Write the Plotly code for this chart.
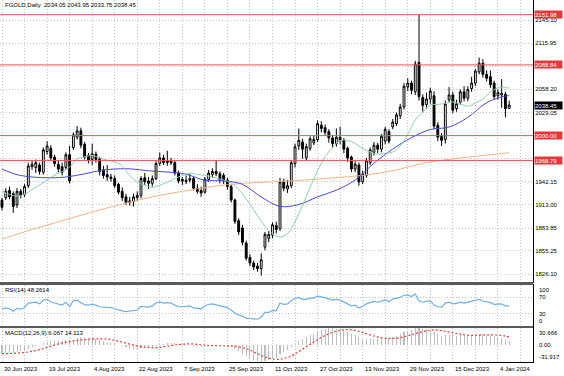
import plotly.graph_objects as go

W, H = 564, 376

# ---------------- text ----------------
symbol_title = "FGOLD,Daily  2034.05 2043.95 2033.75 2038.45"
rsi_title = "RSI(14) 48.2614"
macd_title = "MACD(12,26,9) 6.067 14.113"

date_labels = ["30 Jun 2023", "19 Jul 2023", "4 Aug 2023", "22 Aug 2023", "7 Sep 2023",
               "25 Sep 2023", "11 Oct 2023", "27 Oct 2023", "13 Nov 2023", "29 Nov 2023",
               "15 Dec 2023", "4 Jan 2024"]
date_label_bars = [0, 12, 24, 36, 48, 60, 72, 84, 96, 108, 120, 132]

# ---------------- daily OHLC (bar index 0 = 30 Jun 2023) ----------------
opens = [1919, 1922, 1931, 1927, 1913, 1930, 1926, 1937, 1961, 1960,
         1963, 1954, 1980, 1984, 1973, 1964, 1961, 1960, 1976, 1985,
         1998, 2006, 1989, 1975, 1970, 1977, 1971, 1957, 1951, 1948,
         1946, 1939, 1930, 1923, 1916, 1917, 1922, 1925, 1947, 1943,
         1940, 1946, 1965, 1972, 1966, 1968, 1966, 1953, 1945, 1942,
         1944, 1946, 1934, 1931, 1929, 1945, 1951, 1955, 1952, 1950,
         1944, 1936, 1919, 1893, 1884, 1865, 1847, 1840, 1836, 1833,
         1860, 1871, 1875, 1887, 1883, 1942, 1933, 1937, 1965, 1987,
         1992, 1972, 1984, 1991, 1995, 2013, 2010, 2005, 1997, 1990,
         1998, 1994, 1984, 1973, 1958, 1963, 1942, 1950, 1966, 1979,
         1988, 1983, 1993, 2005, 2011, 2015, 2025, 2036, 2061, 2066,
         2055, 2092, 2048, 2039, 2046, 2050, 2013, 1999, 1995, 2045,
         2051, 2034, 2042, 2055, 2047, 2059, 2066, 2080, 2091, 2077,
         2074, 2066, 2050, 2051, 2052, 2034.05]
highs = [1922, 1934, 1936, 1930, 1934, 1933, 1939, 1966, 1968, 1970,
         1966, 1985, 1993, 1988, 1976, 1969, 1966, 1979, 1987, 2004,
         2012, 2010, 1992, 1978, 1990, 1980, 1973, 1962, 1963, 1952,
         1950, 1941, 1935, 1927, 1923, 1927, 1930, 1949, 1953, 1948,
         1950, 1968, 1979, 1976, 1981, 1972, 1969, 1956, 1948, 1950,
         1952, 1948, 1939, 1936, 1948, 1957, 1959, 1969, 1955, 1953,
         1947, 1938, 1921, 1896, 1888, 1868, 1851, 1843, 1840, 1852,
         1879, 1880, 1891, 1892, 1947, 1946, 1944, 1969, 1990, 2009,
         1996, 1990, 1999, 2000, 2019, 2018, 2014, 2008, 2001, 2009,
         2011, 1997, 1986, 1975, 1968, 1966, 1956, 1972, 1985, 1992,
         1991, 2002, 2011, 2008, 2021, 2029, 2040, 2066, 2072, 2069,
         2094, 2151.98, 2052, 2054, 2060, 2056, 2017, 2003, 2044, 2061,
         2055, 2045, 2058, 2062, 2062, 2074, 2084, 2098, 2096, 2082,
         2082, 2069, 2058, 2071, 2055, 2043.95]
lows = [1906, 1919, 1920, 1903, 1909, 1921, 1923, 1934, 1957, 1953,
        1951, 1951, 1976, 1968, 1961, 1954, 1950, 1957, 1940, 1982,
        1995, 1984, 1970, 1965, 1963, 1966, 1950, 1946, 1943, 1942,
        1934, 1926, 1918, 1913, 1912, 1911, 1918, 1921, 1938, 1933,
        1936, 1944, 1962, 1963, 1962, 1963, 1950, 1940, 1938, 1939,
        1941, 1931, 1927, 1923, 1927, 1942, 1947, 1949, 1940, 1939,
        1932, 1916, 1889, 1875, 1862, 1843, 1836, 1831, 1829, 1824,
        1856, 1866, 1871, 1877, 1880, 1930, 1928, 1934, 1960, 1982,
        1971, 1968, 1981, 1988, 1992, 2004, 2000, 1991, 1985, 1986,
        1989, 1978, 1967, 1954, 1954, 1937, 1939, 1947, 1963, 1975,
        1978, 1979, 1989, 1990, 2008, 2012, 2021, 2033, 2056, 2052,
        2051, 2044, 2030, 2034, 2040, 2008, 1993, 1987, 1990, 2042,
        2028, 2030, 2039, 2043, 2043, 2055, 2062, 2077, 2073, 2068,
        2060, 2045, 2045, 2035, 2023, 2033.75]
closes = [1910, 1930, 1923, 1911, 1930, 1925, 1936, 1962, 1964, 1966,
          1955, 1982, 1987, 1972, 1965, 1958, 1954, 1976, 1943, 2001,
          2006, 1988, 1973, 1969, 1977, 1970, 1955, 1950, 1948, 1946,
          1937, 1929, 1922, 1916, 1918, 1923, 1925, 1946, 1942, 1940,
          1946, 1965, 1972, 1966, 1968, 1966, 1953, 1943, 1943, 1944,
          1946, 1934, 1930, 1928, 1945, 1953, 1955, 1952, 1944, 1943,
          1936, 1919, 1892, 1879, 1866, 1846, 1840, 1835, 1833, 1844,
          1876, 1876, 1888, 1882, 1942, 1934, 1937, 1966, 1986, 1994,
          1983, 1986, 1996, 1995, 2015, 2009, 2004, 1997, 1990, 1998,
          1994, 1983, 1972, 1958, 1964, 1942, 1952, 1969, 1982, 1988,
          1983, 1999, 2008, 1993, 2017, 2026, 2036, 2062, 2066, 2057,
          2090, 2049, 2038, 2046, 2056, 2012, 1998, 1994, 2040, 2051,
          2032, 2040, 2055, 2047, 2058, 2066, 2081, 2091, 2077, 2072,
          2064, 2049, 2054, 2053, 2034, 2038.45]

# ---------------- moving averages ----------------
ma_fast_bars = [0, 2, 4, 6, 8, 10, 12, 14, 16, 18, 20, 22, 24, 26, 28, 30, 32, 34, 36, 38,
                40, 42, 44, 46, 48, 50, 52, 54, 56, 58, 60, 62, 64, 66, 68, 70, 72, 74, 76, 78,
                80, 82, 84, 86, 88, 90, 92, 94, 96, 98, 100, 102, 104, 106, 108, 110, 112, 114,
                116, 118, 120, 122, 124, 126, 128, 130, 132, 134, 135]
ma_fast = [1930, 1926, 1924, 1926, 1932, 1938, 1944, 1950.6, 1954.8, 1960.4, 1970.8, 1973.3,
           1975.1, 1971.9, 1969.1, 1967.1, 1962.2, 1949.9, 1941.8, 1937.6, 1934.9, 1937.6,
           1941.3, 1946.1, 1949.9, 1952.9, 1951.1, 1950.2, 1948.1, 1945.4, 1942.6, 1937.2,
           1926.9, 1914.1, 1899.5, 1886.1, 1876.6, 1872.7, 1877.0, 1891.8, 1912.6, 1935.0,
           1955.7, 1973.5, 1985.1, 1993.8, 1994.0, 1990.1, 1983.8, 1979.6, 1976.6, 1978.0,
           1979.3, 1986.9, 2001.6, 2019.7, 2029.4, 2038.8, 2039.0, 2040.7, 2042.2, 2039.9,
           2036.9, 2041.1, 2045.9, 2054.9, 2059.8, 2060.1, 2059.9]
ma_mid_bars = [0, 4, 8, 13, 17, 22, 26, 29, 34, 39, 44, 49, 54, 59, 64, 69, 74, 79, 84, 89,
               94, 99, 104, 109, 114, 119, 124, 129, 134, 135]
ma_mid = [1958, 1951, 1948, 1947, 1948, 1952, 1956, 1957.7, 1958.3, 1955.8, 1954.3, 1951.5,
          1943.9, 1943.1, 1938.8, 1922.9, 1911.1, 1913.4, 1923.1, 1931.5, 1944.1, 1965.3,
          1983.1, 1997.5, 2007.6, 2010.8, 2022.9, 2041.3, 2049.8, 2050.2]
ma_slow_bars = [0, 8, 16, 24, 32, 40, 48, 56, 64, 72, 80, 88, 96, 104, 112, 117, 124, 130, 135]
ma_slow = [1870, 1882, 1893, 1904, 1914, 1923, 1930, 1936, 1940, 1942, 1944, 1947, 1950,
           1956, 1965, 1969, 1973, 1976, 1978.5]

# ---------------- horizontal levels ----------------
level_prices = [2151.98, 2088.84, 2000.00, 1968.79]
level_labels = ["2151.98", "2088.84", "2000.00", "1968.79"]
last_price = 2038.45
last_label = "2038.45"

price_tick_vals = [2145.10, 2115.95, 2086.80, 2058.20, 2029.05, 2000.00, 1971.30,
                   1942.15, 1913.00, 1883.85, 1855.25, 1826.10]
price_tick_text = ["2145.10", "2115.95", "", "2058.20", "2029.05", "", "",
                   "1942.15", "1913.00", "1883.85", "1855.25", "1826.10"]

# ---------------- RSI(14) ----------------
rsi_vals = [41, 44, 42, 36, 43, 41, 45, 56, 57, 58, 54, 63, 65, 59, 56, 53, 51, 58, 47, 62,
            63, 57, 52, 51, 53, 51, 47, 46, 45, 45, 42, 39, 37, 35, 36, 38, 39, 48, 47, 46,
            49, 56, 59, 56, 57, 56, 51, 47, 47, 48, 49, 44, 43, 42, 49, 53, 54, 52, 49, 48,
            45, 39, 31, 27, 24, 19, 18, 17, 16.5, 22, 33, 33, 38, 37, 56, 53, 54, 62, 67, 69,
            65, 65, 68, 68, 73, 71, 69, 66, 63, 65, 63, 59, 54, 49, 51, 44, 48, 54, 58, 60,
            58, 62, 64, 59, 66, 68, 70, 75, 76, 72, 78, 61, 58, 60, 62, 51, 47, 46, 56, 58,
            54, 55, 58, 56, 58, 60, 63, 65, 61, 59, 57, 53, 54, 54, 49, 48.2614]
rsi_tick_vals = [100, 70, 30, 0]
rsi_tick_text = ["100", "70", "30", "0"]

# ---------------- MACD(12,26,9) ----------------
macd_vals = [-15.5, -15, -14.5, -14.5, -13.5, -12.5, -11, -8, -5, -2.5,
             -1, 2.5, 5.5, 7, 7.5, 7.5, 7, 8, 6, 9.5,
             12.5, 13.5, 13, 12, 11.5, 10.5, 8.5, 6.5, 5, 3.5,
             1.5, -0.5, -3, -5, -6.5, -7.5, -8, -6.5, -6, -5.5,
             -4.5, -2, 0.5, 2, 3, 3.5, 3, 1.5, 0.5, -0.5,
             -1, -2, -3, -4, -3, -2, -1, -0.8, -1.2, -1.5,
             -2.5, -4.5, -8.5, -12.5, -16.5, -21, -24.5, -27.5, -30, -31.917,
             -30.5, -28.5, -26, -24, -18, -13.5, -9.5, -4, 2, 7,
             10.5, 14, 17.5, 20.5, 24.5, 27.5, 29.5, 30.666, 30, 29.5,
             28.5, 26.5, 24, 20.5, 17.5, 13.5, 11, 10, 10, 10.5,
             10.5, 11.5, 12.5, 12.5, 14.5, 16.5, 19, 23, 26, 27.5,
             30, 30.3, 29, 28, 27.5, 24, 20, 16.5, 17, 18,
             17, 16.5, 17, 16.5, 17, 17.5, 19, 20, 19.5, 18.5,
             17, 15.5, 13.5, 11.5, 8.5, 6.067]
signal_bars = [0, 2, 4, 6, 8, 10, 12, 14, 16, 18, 20, 22, 24, 26, 28, 30, 32, 34, 36, 38,
               40, 42, 44, 46, 48, 50, 52, 54, 56, 58, 60, 62, 64, 66, 68, 70, 72, 74, 76, 78,
               80, 82, 84, 86, 88, 90, 92, 94, 96, 98, 100, 102, 104, 106, 108, 110, 112, 114,
               116, 118, 120, 122, 124, 126, 128, 130, 132, 134, 135]
signal_vals = [-16.5, -16.3, -15.5, -14.3, -12.2, -9.2, -5.1, -0.6, 3.2, 5.6, 7.8, 9.4, 10.3,
               10.8, 10.3, 8.0, 4.8, 1.1, -2.3, -4.6, -5.8, -5.1, -3.0, -0.7, 0.8, 1.4, 0.6,
               -0.9, -1.8, -2.0, -2.1, -2.8, -5.4, -10.3, -16.4, -22.5, -26.3, -26.8, -23.5,
               -16.9, -8.4, 0.7, 9.2, 17.0, 22.7, 26.5, 27.9, 26.3, 22.3, 17.9, 14.2, 11.9,
               11.4, 13.1, 16.2, 20.2, 24.0, 26.7, 26.9, 24.7, 21.9, 19.3, 17.3, 17.3, 17.8,
               18.0, 17.5, 15.9, 14.113]
macd_tick_vals = [30.666, 0.0, -31.917]
macd_tick_text = ["30.666", "0.00", "-31.917"]

# ---------------- styling ----------------
FONT = "Liberation Sans, Arial, sans-serif"
FS = 6
GRID = "#c4c4c4"
GDASH = "1px,2px"
LEVEL_LINE = "#e05a5a"
LEVEL_BOX = "#e3383c"

bars = list(range(len(closes)))
grid_bars = list(range(0, 142, 6))
X0, X1 = -0.532, 141.34
XD = [0, 533 / W]


def py(p):
    return 1 - p / H


main_dom = [py(282), py(0)]
rsi_dom = [py(326), py(285)]
macd_dom = [py(362), py(328)]

fig = go.Figure()

fig.add_trace(go.Candlestick(
    x=bars, open=opens, high=highs, low=lows, close=closes,
    increasing=dict(line=dict(color="black", width=1), fillcolor="white"),
    decreasing=dict(line=dict(color="black", width=1), fillcolor="black"),
    whiskerwidth=0, showlegend=False, hoverinfo="skip",
    xaxis="x", yaxis="y"))

fig.add_trace(go.Scatter(x=ma_slow_bars, y=ma_slow, mode="lines",
                         line=dict(color="#f0b48a", width=1, shape="spline"),
                         xaxis="x", yaxis="y", hoverinfo="skip", showlegend=False))
fig.add_trace(go.Scatter(x=ma_mid_bars, y=ma_mid, mode="lines",
                         line=dict(color="#4a4ad0", width=1, shape="spline"),
                         xaxis="x", yaxis="y", hoverinfo="skip", showlegend=False))
fig.add_trace(go.Scatter(x=ma_fast_bars, y=ma_fast, mode="lines",
                         line=dict(color="#8fd0a8", width=1, shape="spline"),
                         xaxis="x", yaxis="y", hoverinfo="skip", showlegend=False))

# RSI
fig.add_trace(go.Scatter(x=bars, y=rsi_vals, mode="lines",
                         line=dict(color="#74aee6", width=1.2),
                         xaxis="x2", yaxis="y2", hoverinfo="skip", showlegend=False))

# MACD histogram + signal
fig.add_trace(go.Bar(x=bars, y=macd_vals, width=0.28,
                     marker=dict(color="#bdbdbd", line=dict(width=0)),
                     xaxis="x3", yaxis="y3", hoverinfo="skip", showlegend=False))
fig.add_trace(go.Scatter(x=signal_bars, y=signal_vals, mode="lines",
                         line=dict(color="#e03c3c", width=1.2, dash="2px,2px", shape="spline"),
                         xaxis="x3", yaxis="y3", hoverinfo="skip", showlegend=False))

# level lines
shapes = []
for lp in level_prices:
    shapes.append(dict(type="line", xref="x", yref="y", x0=X0, x1=X1, y0=lp, y1=lp,
                       line=dict(color=LEVEL_LINE, width=1), layer="above"))
# panel separators
for a, b in [(282, 285), (326, 328)]:
    shapes.append(dict(type="rect", xref="paper", yref="paper", x0=0, x1=XD[1],
                       y0=py(b), y1=py(a), fillcolor="#5a5a5a", line=dict(width=0)))

annotations = []
annotations.append(dict(text=symbol_title, xref="paper", yref="paper", x=3 / W, y=py(5),
                        xanchor="left", yanchor="middle", showarrow=False,
                        font=dict(family=FONT, size=FS, color="black")))
annotations.append(dict(text=rsi_title, xref="paper", yref="paper", x=3 / W, y=py(289.5),
                        xanchor="left", yanchor="middle", showarrow=False,
                        font=dict(family=FONT, size=FS, color="black")))
annotations.append(dict(text=macd_title, xref="paper", yref="paper", x=3 / W, y=py(332.5),
                        xanchor="left", yanchor="middle", showarrow=False,
                        font=dict(family=FONT, size=FS, color="black")))

for lp, lt in zip(level_prices, level_labels):
    annotations.append(dict(text=lt, xref="paper", yref="y", x=534 / W, y=lp,
                            xanchor="left", yanchor="middle", showarrow=False,
                            bgcolor=LEVEL_BOX, borderpad=0, width=27, height=7, align="left",
                            font=dict(family=FONT, size=FS, color="white")))
annotations.append(dict(text=last_label, xref="paper", yref="y", x=534 / W, y=last_price,
                        xanchor="left", yanchor="middle", showarrow=False,
                        bgcolor="black", borderpad=0, width=27, height=7, align="left",
                        font=dict(family=FONT, size=FS, color="white")))

for v, t in zip(rsi_tick_vals, rsi_tick_text):
    ya = "top" if v == 100 else ("bottom" if v == 0 else "middle")
    annotations.append(dict(text=t, xref="paper", yref="y2", x=537 / W, y=v,
                            xanchor="left", yanchor=ya, showarrow=False,
                            font=dict(family=FONT, size=FS, color="black")))
for v, t in zip(macd_tick_vals, macd_tick_text):
    ya = "top" if v > 0 else ("bottom" if v < 0 else "middle")
    annotations.append(dict(text=t, xref="paper", yref="y3", x=537 / W, y=v,
                            xanchor="left", yanchor=ya, showarrow=False,
                            font=dict(family=FONT, size=FS, color="black")))

for b, t in zip(date_label_bars, date_labels):
    annotations.append(dict(text=t, xref="x3", yref="paper", x=b, y=py(369),
                            xanchor="left", yanchor="middle", showarrow=False,
                            font=dict(family=FONT, size=FS, color="black")))

xcommon = dict(range=[X0, X1], domain=XD, tickvals=grid_bars, showticklabels=False,
               showgrid=True, gridcolor=GRID, griddash=GDASH, gridwidth=1,
               zeroline=False, showline=True, mirror=True, linecolor="black", linewidth=1,
               ticks="", fixedrange=True)

fig.update_layout(
    width=W, height=H, autosize=False,
    margin=dict(l=0, r=0, t=0, b=0, pad=0),
    paper_bgcolor="white", plot_bgcolor="white",
    font=dict(family=FONT, size=FS, color="black"),
    showlegend=False, bargap=0,
    xaxis=dict(anchor="y", **xcommon),
    xaxis2=dict(anchor="y2", matches="x", **xcommon),
    xaxis3=dict(anchor="y3", matches="x", **xcommon),
    yaxis=dict(domain=main_dom, range=[1816.1, 2170.35], side="right", anchor="x",
               tickvals=price_tick_vals, ticktext=price_tick_text,
               tickfont=dict(family=FONT, size=FS, color="black"), ticks="",
               showgrid=True, gridcolor=GRID, griddash=GDASH, gridwidth=1,
               zeroline=False, showline=True, mirror=True, linecolor="black", linewidth=1,
               fixedrange=True),
    yaxis2=dict(domain=rsi_dom, range=[0, 100], side="right", anchor="x2",
                tickvals=[70, 30], showticklabels=False, ticks="",
                showgrid=True, gridcolor=GRID, griddash=GDASH, gridwidth=1,
                zeroline=False, showline=True, mirror=True, linecolor="black", linewidth=1,
                fixedrange=True),
    yaxis3=dict(domain=macd_dom, range=[-31.917, 30.666], side="right", anchor="x3",
                showticklabels=False, ticks="", showgrid=False,
                zeroline=False, showline=True, mirror=True, linecolor="black", linewidth=1,
                fixedrange=True),
    xaxis_rangeslider_visible=False,
    shapes=shapes, annotations=annotations,
)

fig.write_html("out.html", config={"displayModeBar": False, "staticPlot": True},
               post_script="document.body.style.margin='0';document.body.style.overflow='hidden';")
